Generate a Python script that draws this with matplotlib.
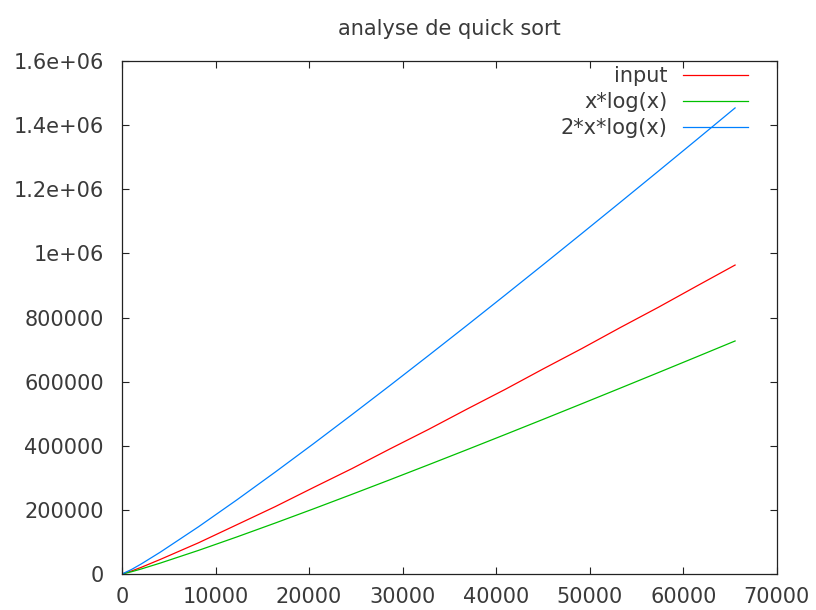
import numpy as np
import matplotlib
matplotlib.use("Agg")
import matplotlib.pyplot as plt
from matplotlib.ticker import FuncFormatter

# taille du tableau trie
n = [0, 1024, 2048, 4096, 8192, 12288, 16384, 20480, 24576, 28672, 32768,
     36864, 40960, 45056, 49152, 53248, 57344, 61440, 65536]

# nombre de comparaisons mesurees
input_vals = [0, 9400, 20700, 45500, 97500, 153800, 210200, 269900, 328700,
              390600, 451000, 514100, 575800, 640200, 703100, 768400, 832000,
              898100, 963600]

# x*log(x)
xlogx = [0, 7100, 15600, 34100, 73800, 115700, 159000, 203300, 248500,
         294300, 340700, 387600, 435000, 482800, 531000, 579500, 628300,
         677400, 726800]

# 2*x*log(x)
two_xlogx = [0, 14200, 31200, 68200, 147600, 231400, 318000, 406600, 497000,
             588600, 681400, 775200, 870000, 965600, 1062000, 1159000,
             1256600, 1354800, 1453600]

txt = '#3a3a3a'
plt.rcParams['font.family'] = ['DejaVu Sans']
plt.rcParams['font.size'] = 15

fig = plt.figure(figsize=(8.16, 6.10), dpi=100)
ax = fig.add_axes([0.1495, 0.059, 0.8025, 0.841])

ax.plot(n, input_vals, color='#ff0000', lw=0.9, label='input')
ax.plot(n, xlogx, color='#00c000', lw=0.9, label='x*log(x)')
ax.plot(n, two_xlogx, color='#0080ff', lw=0.9, label='2*x*log(x)')

ax.set_xlim(0, 70000)
ax.set_ylim(0, 1.6e6)
ax.set_xticks(np.arange(0, 70001, 10000))
ax.set_yticks(np.arange(0, 1600001, 200000))
ax.xaxis.set_major_formatter(FuncFormatter(lambda v, p: '%g' % v))
ax.yaxis.set_major_formatter(FuncFormatter(lambda v, p: '%g' % v))
ax.tick_params(direction='in', length=5, width=0.8, top=True, right=True,
               labelsize=15, color='#222222', labelcolor=txt)
ax.tick_params(axis='x', pad=9)
ax.tick_params(axis='y', pad=13)
for s in ax.spines.values():
    s.set_linewidth(0.9)
    s.set_color('#222222')

ax.set_title('analyse de quick sort', fontsize=15, pad=19, color=txt)

leg = ax.legend(loc='upper right', markerfirst=False, frameon=False,
                handlelength=3.1, handletextpad=0.75, labelspacing=0.28,
                borderpad=0, borderaxespad=0,
                bbox_to_anchor=((748 - 122) / 655, 0.99))
for t in leg.get_texts():
    t.set_color(txt)

fig.savefig('out.png', dpi=100)
